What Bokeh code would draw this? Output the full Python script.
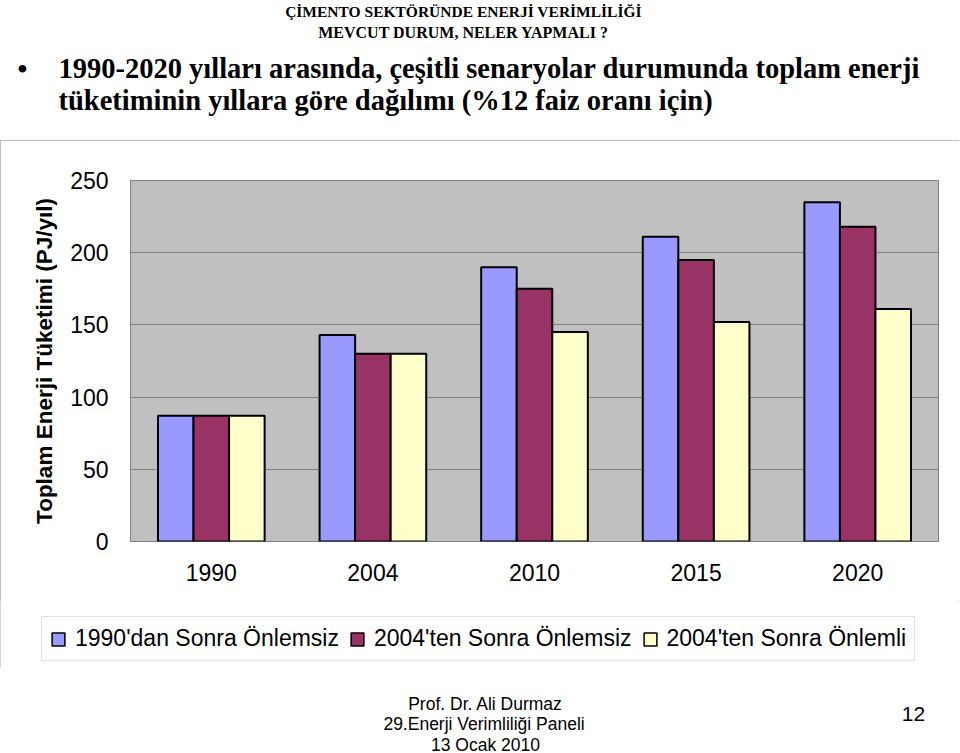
from bokeh.plotting import figure
from bokeh.layouts import column
from bokeh.models import (ColumnDataSource, FactorRange, Range1d, FixedTicker, Label,
                          Legend, LegendItem)
from bokeh.transform import dodge
from bokeh.embed import file_html
from bokeh.resources import INLINE

# ---- data ----
years = ["1990", "2004", "2010", "2015", "2020"]
series_names = ["1990'dan Sonra Önlemsiz", "2004'ten Sonra Önlemsiz", "2004'ten Sonra Önlemli"]
s_1990 = [87, 143, 190, 211, 235]
s_2004 = [87, 130, 175, 195, 218]
s_2004_measures = [87, 130, 145, 152, 161]
y_ticks = [0, 50, 100, 150, 200, 250]

colors = ["#9999FF", "#993366", "#FFFFCC"]

FONT = "Liberation Sans"
SERIF = "Liberation Serif"


def blank(width, y0, y1):
    """A figure whose frame fills the canvas; data units = page pixels."""
    f = figure(width=width, height=y1 - y0, output_backend="svg", toolbar_location=None,
               x_range=Range1d(0, width), y_range=Range1d(y1, y0),
               x_axis_location=None, y_axis_location=None, min_border=0)
    f.grid.visible = False
    f.outline_line_color = None
    f.background_fill_color = "white"
    f.border_fill_color = "white"
    return f


def lab(f, text, X, Y, size, font=FONT, bold=False, align="left"):
    f.add_layout(Label(x=X, y=Y, text=text, text_font=font, text_font_size=size,
                       text_font_style="bold" if bold else "normal",
                       text_align=align, text_baseline="middle", text_color="black"))


# ---------------- header ----------------
top = blank(960, 0, 140)
lab(top, "ÇİMENTO SEKTÖRÜNDE ENERJİ VERİMLİLİĞİ", 463, 11, "15.5px", SERIF, True, "center")
lab(top, "MEVCUT DURUM, NELER YAPMALI ?", 463, 32, "16px", SERIF, True, "center")
lab(top, "•", 22, 68, "28px", SERIF, True, "center")
lab(top, "1990-2020 yılları arasında, çeşitli senaryolar durumunda toplam enerji", 58, 68,
    "28.5px", SERIF, True)
lab(top, "tüketiminin yıllara göre dağılımı (%12 faiz oranı için)", 58, 100,
    "28.5px", SERIF, True)

# ---------------- chart ----------------
source = ColumnDataSource(dict(years=years, a=s_1990, b=s_2004, c=s_2004_measures))

Y0 = 140            # page y of this figure's top
CH = 600 - Y0       # figure height
FL, FR, FT, FB = 130, 938, 180, 541   # frame edges in page pixels
CW = 959

p = figure(width=CW, height=CH, output_backend="svg", toolbar_location=None,
           x_range=FactorRange(*years), y_range=Range1d(0, 250),
           min_border_left=FL, min_border_right=CW - FR,
           min_border_top=FT - Y0, min_border_bottom=CH - (FB - Y0))
p.background_fill_color = "#C0C0C0"
p.border_fill_color = "white"
p.outline_line_color = "#808080"
p.outline_line_width = 1
p.xgrid.grid_line_color = None
p.ygrid.grid_line_color = "#808080"
p.ygrid.grid_line_width = 1
p.yaxis.ticker = FixedTicker(ticks=y_ticks)

for ax in (p.xaxis, p.yaxis):
    ax.axis_line_color = None
    ax.major_tick_line_color = None
    ax.minor_tick_line_color = None
    ax.major_label_text_font = FONT
    ax.major_label_text_font_size = "23px"
    ax.major_label_text_color = "black"
p.yaxis.major_label_standoff = 16
p.xaxis.major_label_standoff = 16
p.yaxis.axis_label = "Toplam Enerji Tüketimi (PJ/yıl)"
p.yaxis.axis_label_text_font = FONT
p.yaxis.axis_label_text_font_size = "22.5px"
p.yaxis.axis_label_text_font_style = "bold"
p.yaxis.axis_label_text_color = "black"
p.yaxis.axis_label_standoff = 10

w = 0.22
for col, off, c in (("a", -w, colors[0]), ("b", 0.0, colors[1]), ("c", w, colors[2])):
    p.vbar(x=dodge("years", off, range=p.x_range), top=col, width=w, source=source,
           fill_color=c, line_color="black", line_width=2)

# ---------------- legend strip ----------------
leg_fig = blank(CW, 600, 668)
# legend proxies: one NaN row each, so nothing is drawn in the strip itself
proxy = ColumnDataSource(dict(x=[float("nan")], top=[float("nan")]))
rs = [leg_fig.vbar(x="x", top="top", width=1, source=proxy, fill_color=c,
                   line_color="black", line_width=1.5) for c in colors]
legend = Legend(items=[LegendItem(label=n, renderers=[r]) for n, r in zip(series_names, rs)],
                orientation="horizontal", location=(41, 668 - 661),
                label_text_font=FONT, label_text_font_size="23px",
                label_text_color="black",
                glyph_width=16, glyph_height=16, label_standoff=9, spacing=10,
                padding=8, margin=0, border_line_color="#C0C0C0",
                background_fill_color="white", background_fill_alpha=1.0)
leg_fig.add_layout(legend, "center")

boxed = column(p, column(leg_fig), spacing=0,
               styles={"outline": "1px solid #A8A8A8", "outline-offset": "-1px"})

# ---------------- footer ----------------
foot = blank(960, 668, 753)
lab(foot, "Prof. Dr. Ali Durmaz", 485, 703, "17.5px", align="center")
lab(foot, "29.Enerji Verimliliği  Paneli", 486, 723, "17.5px", align="center")
lab(foot, "13 Ocak 2010", 485, 744, "17.5px", align="center")
lab(foot, "12", 913, 713, "21px", align="center")

page = column(top, boxed, foot, spacing=0)
open("out.html", "w").write(file_html(page, INLINE))
